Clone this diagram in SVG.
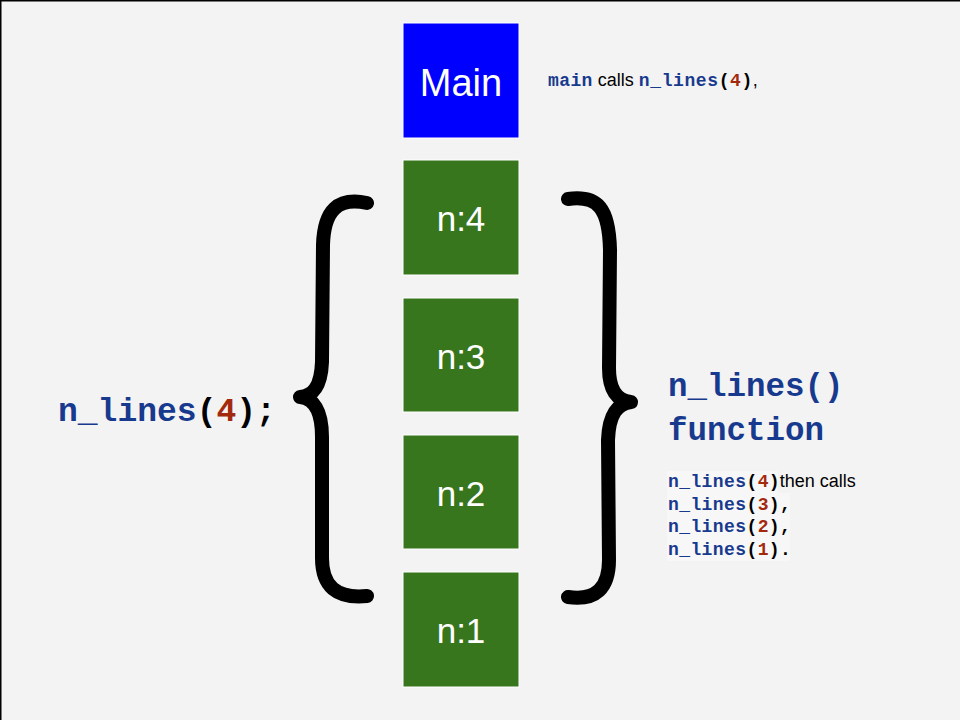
<svg xmlns="http://www.w3.org/2000/svg" width="960" height="720" viewBox="0 0 960 720">
  <style>
    .box { stroke: #ffffff; stroke-width: 1; }
    .main { fill: #0000ff; }
    .frame { fill: #38761d; }
    .lbl { font-family: "Liberation Sans", Arial, sans-serif; fill: #ffffff; text-anchor: middle; }
    .code { font-family: "Liberation Mono", "Courier New", monospace; font-weight: bold; }
    .kw { fill: #183a8e; }
    .num { fill: #a3290d; }
    .pn { fill: #000000; }
    .sans { font-family: "Liberation Sans", Arial, sans-serif; fill: #000000; }
    .brace { fill: none; stroke: #000000; stroke-width: 14; stroke-linecap: round; stroke-linejoin: round; }
  </style>
  <rect x="0" y="0" width="960" height="720" fill="#f3f3f3"/>
  <rect x="0.75" y="0.75" width="970" height="730" fill="none" stroke="#000000" stroke-width="1.5"/>

  <g id="main">
    <rect class="box main" x="403" y="23" width="116" height="115"/>
    <text class="lbl" x="461" y="96" font-size="38">Main</text>
  </g>
  <g id="n4">
    <rect class="box frame" x="403" y="160" width="116" height="115"/>
    <text class="lbl" x="461" y="231" font-size="35">n:4</text>
  </g>
  <g id="n3">
    <rect class="box frame" x="403" y="298" width="116" height="114"/>
    <text class="lbl" x="461" y="369" font-size="35">n:3</text>
  </g>
  <g id="n2">
    <rect class="box frame" x="403" y="435" width="116" height="114"/>
    <text class="lbl" x="461" y="506" font-size="35">n:2</text>
  </g>
  <g id="n1">
    <rect class="box frame" x="403" y="572" width="116" height="115"/>
    <text class="lbl" x="461" y="643" font-size="35">n:1</text>
  </g>

  <g id="connectors">
    <path id="left-brace" class="brace" d="M367,203 C338,197 324,210 323,245 L322,362 C321,387 313,396 300,397 C313,398 322,410 322,437 L322,558 C322,586 336,599 367,596"/>
    <path id="right-brace" class="brace" d="M568,199 C598,195 609,208 610,250 L609,368 C609,390 617,401 631,402 C617,404 609,414 608,440 L609,560 C609,588 596,601 568,597"/>
  </g>

  <g id="call-label">
    <text x="58" y="421" font-size="33" class="code"><tspan class="kw">n_lines</tspan><tspan class="pn">(</tspan><tspan class="num">4</tspan><tspan class="pn">);</tspan></text>
  </g>

  <g id="main-note">
    <text x="548" y="86" font-size="18"><tspan class="code kw" letter-spacing="0.4">main</tspan><tspan class="sans"> calls </tspan><tspan class="code kw" letter-spacing="0.6">n_lines</tspan><tspan class="code pn" letter-spacing="0.6">(</tspan><tspan class="code num" letter-spacing="0.6">4</tspan><tspan class="code pn" letter-spacing="0.6">)</tspan><tspan class="sans">,</tspan></text>
  </g>

  <g id="function-title">
    <text x="668" y="396" font-size="32.5" class="code kw">n_lines()</text>
    <text x="668" y="440" font-size="32.5" class="code kw">function</text>
  </g>

  <g id="function-note">
    <rect x="667" y="471" width="111" height="22" fill="#f7f7f7"/>
    <rect x="667" y="493" width="123" height="68" fill="#f7f7f7"/>
    <text x="668" y="487" font-size="18"><tspan class="code kw" letter-spacing="0.4">n_lines</tspan><tspan class="code pn" letter-spacing="0.4">(</tspan><tspan class="code num" letter-spacing="0.4">4</tspan><tspan class="code pn">)</tspan><tspan class="sans">then calls</tspan></text>
    <text x="668" y="509.5" font-size="18" class="code" letter-spacing="0.4"><tspan class="kw">n_lines</tspan><tspan class="pn">(</tspan><tspan class="num">3</tspan><tspan class="pn">),</tspan></text>
    <text x="668" y="532" font-size="18" class="code" letter-spacing="0.4"><tspan class="kw">n_lines</tspan><tspan class="pn">(</tspan><tspan class="num">2</tspan><tspan class="pn">),</tspan></text>
    <text x="668" y="554.5" font-size="18" class="code" letter-spacing="0.4"><tspan class="kw">n_lines</tspan><tspan class="pn">(</tspan><tspan class="num">1</tspan><tspan class="pn">).</tspan></text>
  </g>
</svg>
